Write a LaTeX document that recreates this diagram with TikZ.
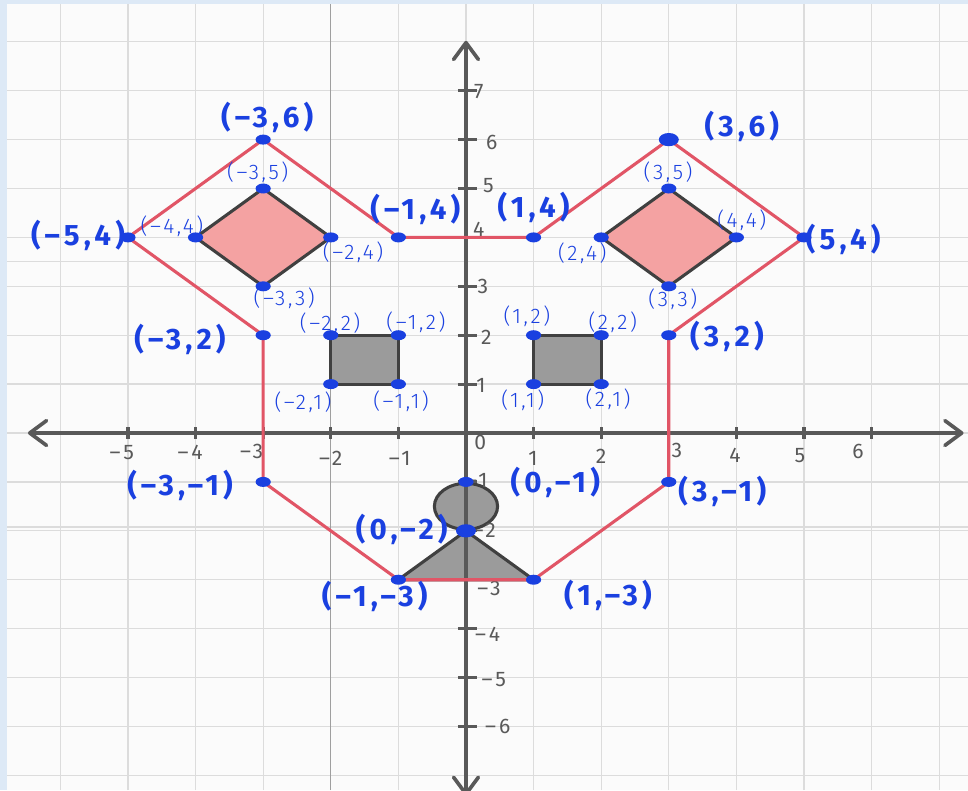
\documentclass[tikz,border=0pt]{standalone}
\usepackage{fontspec}
\usetikzlibrary{arrows.meta, shapes.geometric}
\newfontfamily\handfont[LetterSpace=14]{Fira Sans}
\newfontfamily\thinfont[LetterSpace=12]{Fira Sans Light}
\definecolor{paper}{HTML}{FBFBFB}
\definecolor{frame}{HTML}{DDE9F6}
\definecolor{gridline}{HTML}{DCDCDC}
\definecolor{axis}{HTML}{595959}
\definecolor{outline}{HTML}{E15566}
\definecolor{eye}{HTML}{F4A2A2}
\definecolor{shade}{HTML}{9B9B9B}
\definecolor{edge}{HTML}{404040}
\definecolor{pen}{HTML}{1A40E0}

\begin{document}
\begin{tikzpicture}[
    x=1.69cm,
    y=1.2225cm,
    axisline/.style={
        draw=axis,
        line width=2.6pt,
        line cap=round,
        {Straight Barb[round, length=0.42cm, width=0.62cm]}-{Straight Barb[round, length=0.42cm, width=0.62cm]}
    },
    tickmark/.style={draw=axis, line width=2.2pt},
    ticklabel/.style={text=axis, font=\handfont\fontsize{15}{16}\selectfont, inner sep=0pt},
    face/.style={draw=outline, line width=2.2pt, line join=round},
    eyebox/.style={draw=edge, line width=2.2pt, fill=eye, line join=round},
    shadebox/.style={draw=edge, line width=2.2pt, fill=shade, line join=round},
    dot/.style={ellipse, fill=pen, inner sep=0pt, minimum width=0.38cm, minimum height=0.25cm},
    bigdot/.style={dot, minimum width=0.5cm, minimum height=0.33cm},
    bold/.style={text=pen, font=\handfont\bfseries\fontsize{21}{22}\selectfont, inner sep=0pt},
    thin/.style={text=pen, font=\thinfont\fontsize{15}{16}\selectfont, inner sep=0pt}
]

% Paper
\fill[frame] (-6.893,-7.301) rectangle (7.426,8.855);
\fill[paper] (-6.789,-7.301) rectangle (7.426,8.773);
\useasboundingbox (-6.893,-7.301) rectangle (7.426,8.855);

% Grid
\foreach \gx in {-6,...,7}
    \draw[gridline, line width=0.9pt] (\gx,-7.301) -- (\gx,8.773);
\foreach \gy in {-7,...,8}
    \draw[gridline, line width=0.9pt] (-6.789,\gy) -- (7.426,\gy);
\draw[gridline, line width=0.9pt] (-6.789,3.5) -- (7.426,3.5);
\draw[gridline, line width=0.9pt] (-6.789,-1.92) -- (7.426,-1.92);
\draw[gray!75, line width=0.4pt] (-2,-7.301) -- (-2,8.773);

% Points
\coordinate (LT) at (-3,6);
\coordinate (RT) at (3,6);
\coordinate (LL) at (-5,4);
\coordinate (LI) at (-1,4);
\coordinate (RI) at (1,4);
\coordinate (RR) at (5,4);
\coordinate (LS) at (-3,2);
\coordinate (RS) at (3,2);
\coordinate (LB) at (-3,-1);
\coordinate (RB) at (3,-1);
\coordinate (LC) at (-1,-3);
\coordinate (RC) at (1,-3);
\coordinate (NT) at (0,-1);
\coordinate (NM) at (0,-2);
\coordinate (NC) at (0,-1.5);
\coordinate (LET) at (-3,5);
\coordinate (LER) at (-2,4);
\coordinate (LEB) at (-3,3);
\coordinate (LEL) at (-4,4);
\coordinate (RET) at (3,5);
\coordinate (RER) at (4,4);
\coordinate (REB) at (3,3);
\coordinate (REL) at (2,4);
\coordinate (LQA) at (-2,1);
\coordinate (LQB) at (-1,1);
\coordinate (LQC) at (-1,2);
\coordinate (LQD) at (-2,2);
\coordinate (RQA) at (1,1);
\coordinate (RQB) at (2,1);
\coordinate (RQC) at (2,2);
\coordinate (RQD) at (1,2);

% Eyes, cheeks and nose
\draw[eyebox] (LET) -- (LER) -- (LEB) -- (LEL) -- cycle;
\draw[eyebox] (RET) -- (RER) -- (REB) -- (REL) -- cycle;
\draw[shadebox] (LQA) rectangle (LQC);
\draw[shadebox] (RQA) rectangle (RQC);
\draw[shadebox] (NM) -- (RC) -- (LC) -- cycle;
\draw[shadebox] (NC) ellipse [x radius=0.79cm, y radius=0.575cm];

% Axes
\coordinate (xL) at (-6.48,0);
\coordinate (xR) at (7.36,0);
\coordinate (yT) at (0,8.02);
\coordinate (yB) at (0,-7.42);
\draw[axisline] (xL) -- (xR);
\draw[axisline] (yB) -- (yT);
\foreach \tx in {-5,...,-1,1,2,...,6}
    \draw[tickmark] (\tx,-0.12) -- (\tx,0.12);
\foreach \ty in {-6,...,-1,1,2,...,7}
    \draw[tickmark] (-0.12,\ty) -- (0.16,\ty);
\foreach \v/\px/\py [count=\i] in {–5/-5.09/-0.39, –4/-4.08/-0.39, –3/-3.17/-0.37, –2/-2.0/-0.51, –1/-0.98/-0.51, 0/0.21/-0.2, 1/0.99/-0.51, 2/2.0/-0.47, 3/3.12/-0.35, 4/3.98/-0.45, 5/4.94/-0.47, 6/5.8/-0.37}
    \node[ticklabel] (xt\i) at (\px,\py) {\v};
\foreach \v/\px/\py [count=\i] in {7/0.19/6.99, 6/0.38/5.95, 5/0.33/5.06, 4/0.19/4.17, 3/0.25/2.99, 2/0.30/1.96, 1/0.22/0.98, –1/0.16/-0.98, –2/0.27/-1.98, –3/0.34/-3.17, –4/0.32/-4.11, –5/0.41/-5.05, –6/0.47/-6.01}
    \node[ticklabel] (yt\i) at (\px,\py) {\v};

% Face outline
\draw[face] (LI) -- (LT) -- (LL) -- (LS) -- (LB) -- (LC) -- (RC) -- (RB) -- (RS) -- (RR) -- (RT) -- (RI) -- cycle;

% Dots
\foreach \p in {LT,LL,LI,RI,RR,LS,RS,LB,RB,LC,RC,NT,LET,LER,LEB,LEL,RET,RER,REB,REL,LQA,LQB,LQC,LQD,RQA,RQB,RQC,RQD}
    \node[dot] (d\p) at (\p) {};
\node[bigdot] (dRT) at (RT) {};
\node[bigdot] (dNM) at (NM) {};

% Labels
\node[bold] (tLT) at (-2.94,6.46) {(–3,6)};
\node[bold] (tRT) at (4.08,6.26) {(3,6)};
\node[bold] (tLL) at (-5.74,4.05) {(–5,4)};
\node[bold] (tLI) at (-0.75,4.58) {(–1,4)};
\node[bold] (tRI) at (1.0,4.62) {(1,4)};
\node[bold] (tRR) at (5.58,3.95) {(5,4)};
\node[bold] (tLS) at (-4.23,1.92) {(–3,2)};
\node[bold] (tRS) at (3.86,1.98) {(3,2)};
\node[bold] (tLB) at (-4.23,-1.08) {(–3,–1)};
\node[bold] (tRB) at (3.79,-1.19) {(3,–1)};
\node[bold] (tNT) at (1.32,-1.02) {(0,–1)};
\node[bold] (tNM) at (-0.95,-1.98) {(0,–2)};
\node[bold] (tLC) at (-1.35,-3.35) {(–1,–3)};
\node[bold] (tRC) at (2.10,-3.33) {(1,–3)};
\node[thin] (tLET) at (-3.08,5.34) {(–3,5)};
\node[thin] (tLEL) at (-4.35,4.23) {(–4,4)};
\node[thin] (tLER) at (-1.67,3.70) {(–2,4)};
\node[thin] (tLEB) at (-2.69,2.76) {(–3,3)};
\node[thin] (tLQD) at (-2.01,2.25) {(–2,2)};
\node[thin] (tLQC) at (-0.74,2.27) {(–1,2)};
\node[thin] (tLQA) at (-2.41,0.63) {(–2,1)};
\node[thin] (tLQB) at (-0.96,0.65) {(–1,1)};
\node[thin] (tRET) at (2.99,5.34) {(3,5)};
\node[thin] (tRER) at (4.08,4.36) {(4,4)};
\node[thin] (tREL) at (1.72,3.68) {(2,4)};
\node[thin] (tREB) at (3.06,2.74) {(3,3)};
\node[thin] (tRQD) at (0.90,2.39) {(1,2)};
\node[thin] (tRQC) at (2.17,2.27) {(2,2)};
\node[thin] (tRQA) at (0.84,0.67) {(1,1)};
\node[thin] (tRQB) at (2.10,0.70) {(2,1)};

\end{tikzpicture}
\end{document}
